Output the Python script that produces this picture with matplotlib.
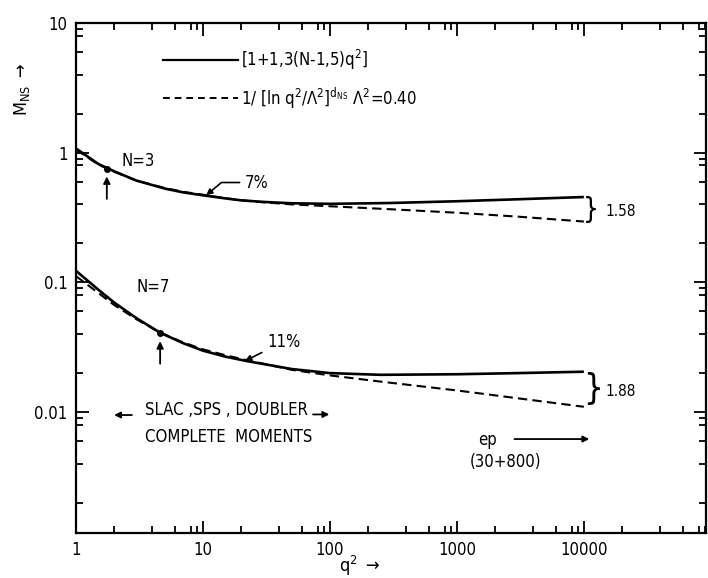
import matplotlib
matplotlib.use("Agg")
import matplotlib.pyplot as plt
from matplotlib.ticker import FixedLocator, FixedFormatter, NullFormatter

# values (q^2, M_NS)
q2_n3 = [1, 1.5, 2, 3, 5, 7, 10, 15, 20, 30, 50, 100, 300, 1000, 3000, 10000]
m_n3_solid = [1.08, 0.82, 0.72, 0.61, 0.53, 0.495, 0.47, 0.445, 0.43, 0.418,
              0.408, 0.404, 0.41, 0.423, 0.438, 0.456]
m_n3_dashed = [1.06, 0.81, 0.715, 0.61, 0.535, 0.50, 0.475, 0.447, 0.43, 0.415,
               0.40, 0.387, 0.367, 0.345, 0.322, 0.295]

q2_n7 = [1, 1.5, 2, 3, 4.6, 7, 10, 15, 22, 50, 100, 250, 1000, 3000, 10000]
m_n7_solid = [0.123, 0.088, 0.070, 0.053, 0.041, 0.034, 0.0298, 0.0268, 0.0248,
              0.0215, 0.0200, 0.0194, 0.0196, 0.0200, 0.0205]
m_n7_dashed = [0.112, 0.083, 0.067, 0.052, 0.041, 0.0345, 0.0305, 0.0275, 0.0252,
               0.0212, 0.0192, 0.0172, 0.0147, 0.0128, 0.011]

x_ticks = [1, 10, 100, 1000, 10000]
x_ticklabels = ["1", "10", "100", "1000", "10000"]
y_ticks = [0.01, 0.1, 1, 10]
y_ticklabels = ["0.01", "0.1", "1", "10"]

label_solid = r"[1+1,3(N-1,5)q$^2$]"
label_dashed = r"1/ [ln q$^2$/$\Lambda^2$]$^{\mathrm{d_{NS}}}$ $\Lambda^2$=0.40"

plt.rcParams['font.family'] = ['DejaVu Sans']
plt.rcParams['font.stretch'] = 'condensed'
fig = plt.figure(figsize=(7.08, 5.78), dpi=100)
ax = fig.add_axes([0.1073, 0.0779, 0.8897, 0.8821])

ax.plot(q2_n3, m_n3_solid, color="black", lw=1.9, solid_capstyle="butt")
ax.plot(q2_n3, m_n3_dashed, color="black", lw=1.5, dashes=(4.5, 2.5))
ax.plot(q2_n7, m_n7_solid, color="black", lw=1.9, solid_capstyle="butt")
ax.plot(q2_n7, m_n7_dashed, color="black", lw=1.5, dashes=(4.5, 2.5))

ax.set_xscale("log")
ax.set_yscale("log")
ax.set_xlim(1, 91400)
ax.set_ylim(0.00117, 10)

minor_x = [m * 10 ** e for e in range(0, 5) for m in (2, 4, 6, 8, 9)]
minor_y = [m * 10 ** e for e in range(-3, 1) for m in (2, 4, 6, 8, 9)]
ax.xaxis.set_major_locator(FixedLocator(x_ticks))
ax.xaxis.set_major_formatter(FixedFormatter(x_ticklabels))
ax.xaxis.set_minor_locator(FixedLocator(minor_x))
ax.xaxis.set_minor_formatter(NullFormatter())
ax.yaxis.set_major_locator(FixedLocator(y_ticks))
ax.yaxis.set_major_formatter(FixedFormatter(y_ticklabels))
ax.yaxis.set_minor_locator(FixedLocator(minor_y))
ax.yaxis.set_minor_formatter(NullFormatter())
ax.tick_params(which="both", direction="in", top=True, right=True, width=1.3)
ax.tick_params(which="major", length=9, labelsize=12, pad=6)
ax.tick_params(which="minor", length=5)
for s in ax.spines.values():
    s.set_linewidth(1.6)

# legend drawn by hand
ax.plot([0.138, 0.257], [0.927, 0.927], transform=ax.transAxes, color="black", lw=1.6)
ax.plot([0.138, 0.257], [0.853, 0.853], transform=ax.transAxes, color="black", lw=1.4,
        dashes=(3.5, 2.5))
ax.text(0.262, 0.927, label_solid, transform=ax.transAxes, fontsize=12, va="center")
ax.text(0.262, 0.853, label_dashed, transform=ax.transAxes, fontsize=12, va="center")

# curve annotations
ax.text(2.3, 0.86, "N=3", fontsize=12, va="center")
ax.text(3.0, 0.092, "N=7", fontsize=12, va="center")
ax.plot([1.75], [0.75], "o", color="black", ms=4)
ax.plot([4.6], [0.041], "o", color="black", ms=4)
ax.annotate("", xy=(1.75, 0.69), xytext=(1.75, 0.42),
            arrowprops=dict(arrowstyle="-|>", color="black", lw=1.3, mutation_scale=10))
ax.annotate("", xy=(4.6, 0.037), xytext=(4.6, 0.0225),
            arrowprops=dict(arrowstyle="-|>", color="black", lw=1.3, mutation_scale=10))
ax.annotate("7%", xy=(10.6, 0.47), xytext=(21.5, 0.59), fontsize=12, va="center",
            arrowprops=dict(arrowstyle="-|>", color="black", lw=1.2, mutation_scale=9,
                            connectionstyle="angle,angleA=0,angleB=40,rad=0",
                            shrinkA=2, shrinkB=0))
ax.annotate("11%", xy=(21.4, 0.0248), xytext=(32, 0.035), fontsize=12, va="center",
            arrowprops=dict(arrowstyle="-|>", color="black", lw=1.2, mutation_scale=9,
                            shrinkA=2, shrinkB=0))

# braces with ratios
ax.text(9800, 0.365, "}", fontsize=20, va="center", ha="left", fontweight="light")
ax.text(14800, 0.35, "1.58", fontsize=11, va="center")
ax.text(9800, 0.0152, "}", fontsize=25, va="center", ha="left", fontweight="light")
ax.text(14800, 0.0144, "1.88", fontsize=11, va="center")

# kinematic ranges
ax.text(3.5, 0.0104, "SLAC ,SPS , DOUBLER", fontsize=12, va="center")
ax.text(3.5, 0.0064, "COMPLETE  MOMENTS", fontsize=12, va="center")
ax.annotate("", xy=(1.9, 0.0095), xytext=(2.9, 0.0095),
            arrowprops=dict(arrowstyle="-|>", color="black", lw=1.3, mutation_scale=9))
ax.annotate("", xy=(104, 0.0096), xytext=(70, 0.0096),
            arrowprops=dict(arrowstyle="-|>", color="black", lw=1.3, mutation_scale=9))
ax.text(1460, 0.0061, "ep", fontsize=12, va="center")
ax.annotate("", xy=(11600, 0.0062), xytext=(2700, 0.0062),
            arrowprops=dict(arrowstyle="-|>", color="black", lw=1.3, mutation_scale=9))
ax.text(1260, 0.0041, "(30+800)", fontsize=12, va="center")

# axis titles
fig.text(0.508, 0.021, r"q$^2$ $\rightarrow$", fontsize=13, ha="center", va="center")
fig.text(0.031, 0.845, r"M$_{\mathrm{NS}}$ $\rightarrow$", fontsize=13, ha="center",
         va="center", rotation=90)

fig.savefig("out.png", dpi=100)
